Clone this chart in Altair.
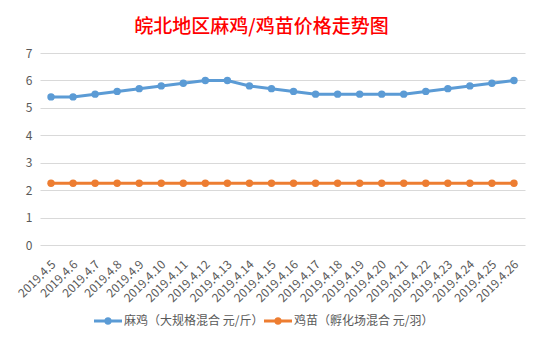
import altair as alt
import pandas as pd

dates = ["2019.4.5", "2019.4.6", "2019.4.7", "2019.4.8", "2019.4.9", "2019.4.10",
         "2019.4.11", "2019.4.12", "2019.4.13", "2019.4.14", "2019.4.15", "2019.4.16",
         "2019.4.17", "2019.4.18", "2019.4.19", "2019.4.20", "2019.4.21", "2019.4.22",
         "2019.4.23", "2019.4.24", "2019.4.25", "2019.4.26"]
maji = [5.4, 5.4, 5.5, 5.6, 5.7, 5.8, 5.9, 6.0, 6.0, 5.8, 5.7, 5.6,
        5.5, 5.5, 5.5, 5.5, 5.5, 5.6, 5.7, 5.8, 5.9, 6.0]
jimiao = [2.25] * 22
series_names = ["麻鸡（大规格混合 元/斤）", "鸡苗（孵化场混合 元/羽）"]
colors = ["#5B9BD5", "#ED7D31"]

rows = []
for d, a, b in zip(dates, maji, jimiao):
    rows.append({"date": d, "series": series_names[0], "value": a})
    rows.append({"date": d, "series": series_names[1], "value": b})
df = pd.DataFrame(rows)

FONT = "Noto Sans CJK SC"
GRAY = "#595959"

legend_path = ("M-1,-0.1 L1,-0.1 L1,0.1 L-1,0.1 Z "
               "M0.27,0 A0.27,0.27 0 1,1 -0.27,0 A0.27,0.27 0 1,1 0.27,0 Z")

x = alt.X("date:N", sort=dates, scale=alt.Scale(padding=0.5),
          axis=alt.Axis(title=None, labelAngle=-45, labelAlign="right",
                        labelBaseline="middle", labelPadding=17, labelFontSize=12,
                        labelColor=GRAY, labelFont=FONT, domain=False, ticks=False,
                        grid=False, labelOverlap=False, labelOffset=2))
y = alt.Y("value:Q", scale=alt.Scale(domain=[0, 7], nice=False),
          axis=alt.Axis(title=None, values=[0, 1, 2, 3, 4, 5, 6, 7], labelFontSize=12,
                        labelColor=GRAY, labelFont=FONT, labelPadding=8, domain=False,
                        ticks=False, gridColor="#D9D9D9", gridWidth=1))
color_scale = alt.Scale(domain=series_names, range=colors)
legend = alt.Legend(title=None, orient="none", direction="horizontal",
                    legendX=54, legendY=254, symbolType=legend_path,
                    symbolSize=784, symbolStrokeWidth=0,
                    labelFontSize=12, labelColor=GRAY, labelFont=FONT,
                    labelOffset=2, columnPadding=0, labelLimit=300)
color = alt.Color("series:N", sort=series_names, scale=color_scale, legend=legend)

lines = alt.Chart(df).mark_line(strokeWidth=3).encode(x=x, y=y, color=color)
points = alt.Chart(df).mark_point(filled=True, size=55, opacity=1).encode(x=x, y=y, color=color)

chart = alt.layer(lines, points).properties(
    width=485, height=192,
    padding={"left": 40, "top": 53, "right": 18, "bottom": 97},
    autosize=alt.AutoSizeParams(type="none"),
    title=alt.TitleParams("皖北地区麻鸡/鸡苗价格走势图", color="#FF0000", fontSize=19,
                          font=FONT, fontWeight=500, anchor="middle", offset=10, dx=-21),
    background="white",
).configure_view(stroke=None)

chart.save("out.html", embed_options={"renderer": "svg", "actions": False})
